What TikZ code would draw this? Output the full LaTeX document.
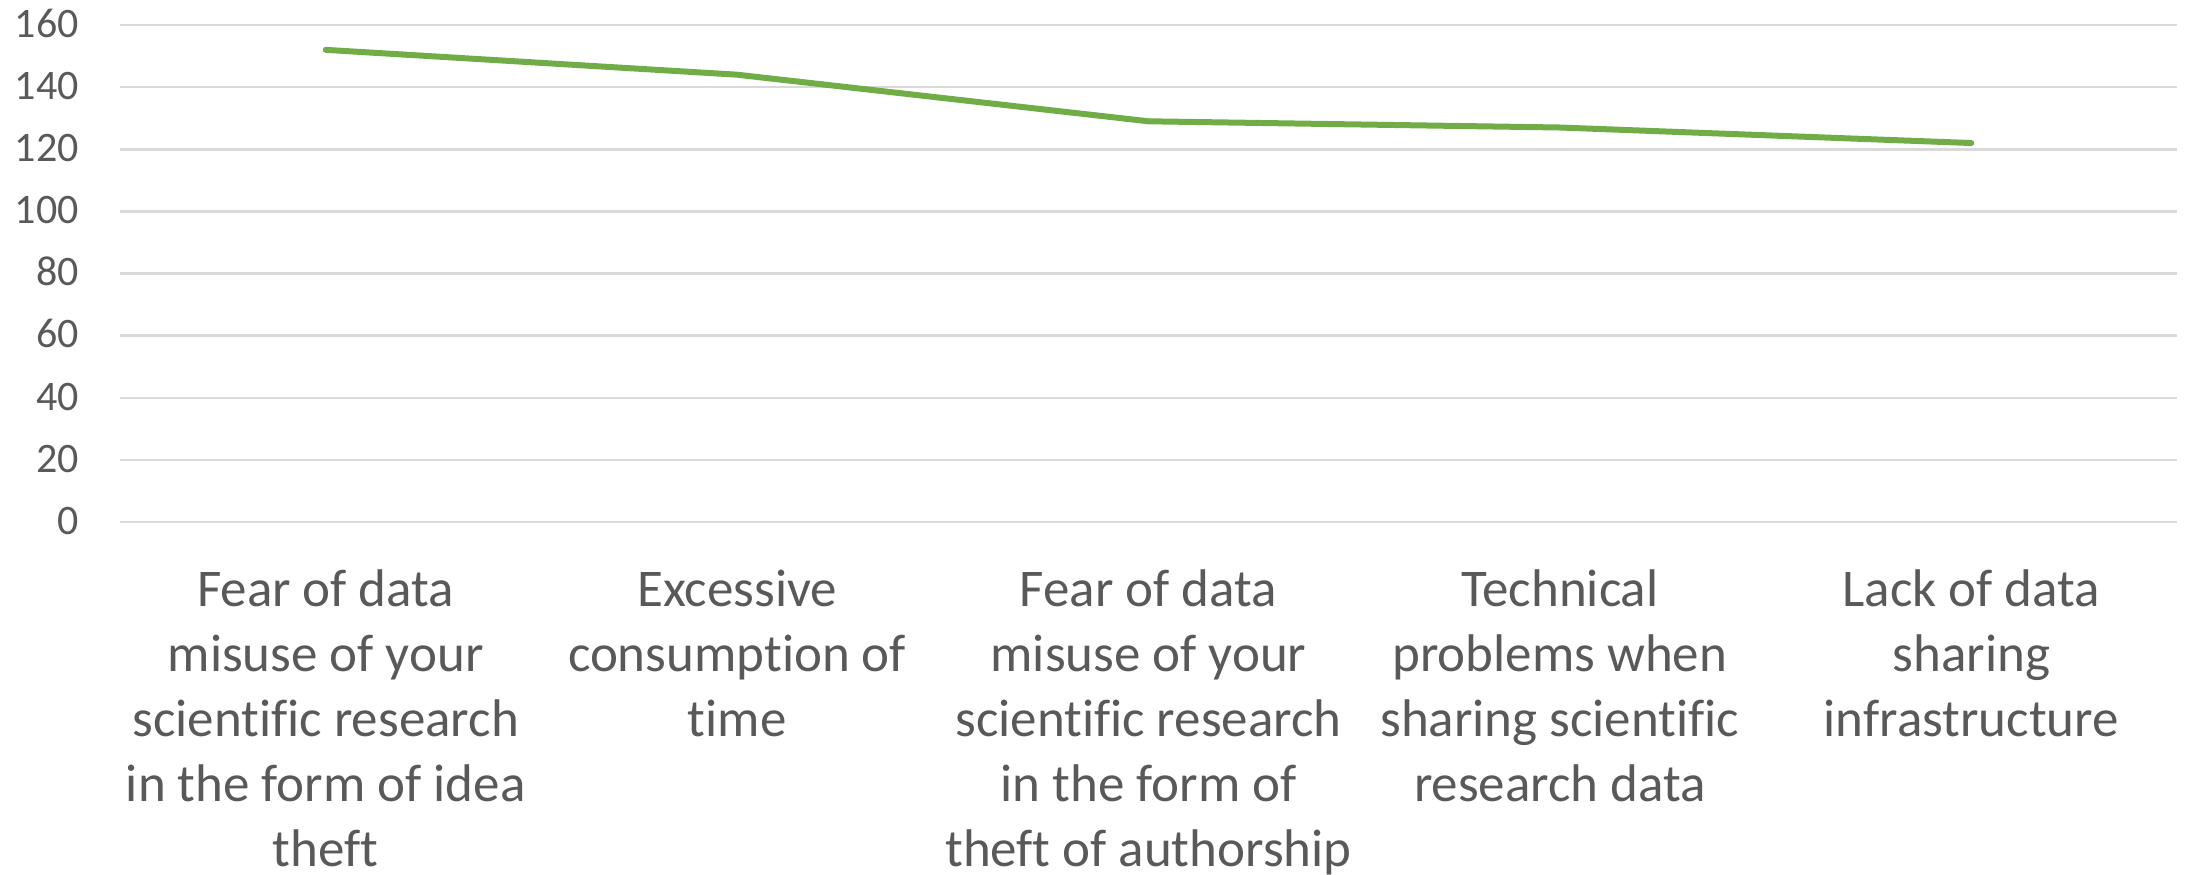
\documentclass[tikz,border=0pt]{standalone}
\usepackage{fontspec}
\setmainfont[Ligatures={NoCommon}]{Carlito}
\definecolor{txtgray}{HTML}{595959}
\definecolor{gridgray}{HTML}{D9D9D9}
\definecolor{linegreen}{HTML}{70AD47}
\begin{document}
\begin{tikzpicture}[x=1pt,y=-1pt,
  grid/.style={draw=gridgray,line width=2.5pt},
  ticklab/.style={anchor=base east,inner sep=0pt,text=txtgray,font=\fontsize{42}{50}\selectfont},
  catlab/.style={anchor=base,inner sep=0pt,text=txtgray,font=\fontsize{53}{65}\selectfont},
  series/.style={draw=linegreen,line width=6pt,line cap=round,line join=round}]
\useasboundingbox (0,0) rectangle (2190,875);
% gridlines and tick labels
\foreach \v [count=\i from 0] in {0,20,40,60,80,100,120,140,160}{
  \coordinate (gl\i) at (120,{522-\v*3.10625});
  \coordinate (gr\i) at (2177,{522-\v*3.10625});
  \draw[grid] (gl\i) -- (gr\i);
  \node[ticklab] (t\i) at (79,{522-\v*3.10625+12.3}) {\v};
}
% data points
\coordinate (p1) at (325.7,{522-152*3.10625});
\coordinate (p2) at (737.1,{522-144*3.10625});
\coordinate (p3) at (1148.5,{522-129*3.10625});
\coordinate (p4) at (1559.9,{522-127*3.10625});
\coordinate (p5) at (1971.3,{522-122*3.10625});
\draw[series] (p1) -- (p2) -- (p3) -- (p4) -- (p5);
% category labels
\node[catlab] (c1) at (325.7,606.7) {\begin{tabular}[t]{@{}c@{}}Fear of data\\misuse of your\\scientific research\\in the form of idea\\theft\end{tabular}};
\node[catlab] (c2) at (737.1,606.7) {\begin{tabular}[t]{@{}c@{}}Excessive\\consumption of\\time\end{tabular}};
\node[catlab] (c3) at (1148.5,606.7) {\begin{tabular}[t]{@{}c@{}}Fear of data\\misuse of your\\scientific research\\in the form of\\theft of authorship\end{tabular}};
\node[catlab] (c4) at (1559.9,606.7) {\begin{tabular}[t]{@{}c@{}}Technical\\problems when\\sharing scientific\\research data\end{tabular}};
\node[catlab] (c5) at (1971.3,606.7) {\begin{tabular}[t]{@{}c@{}}Lack of data\\sharing\\infrastructure\end{tabular}};
\end{tikzpicture}
\end{document}
